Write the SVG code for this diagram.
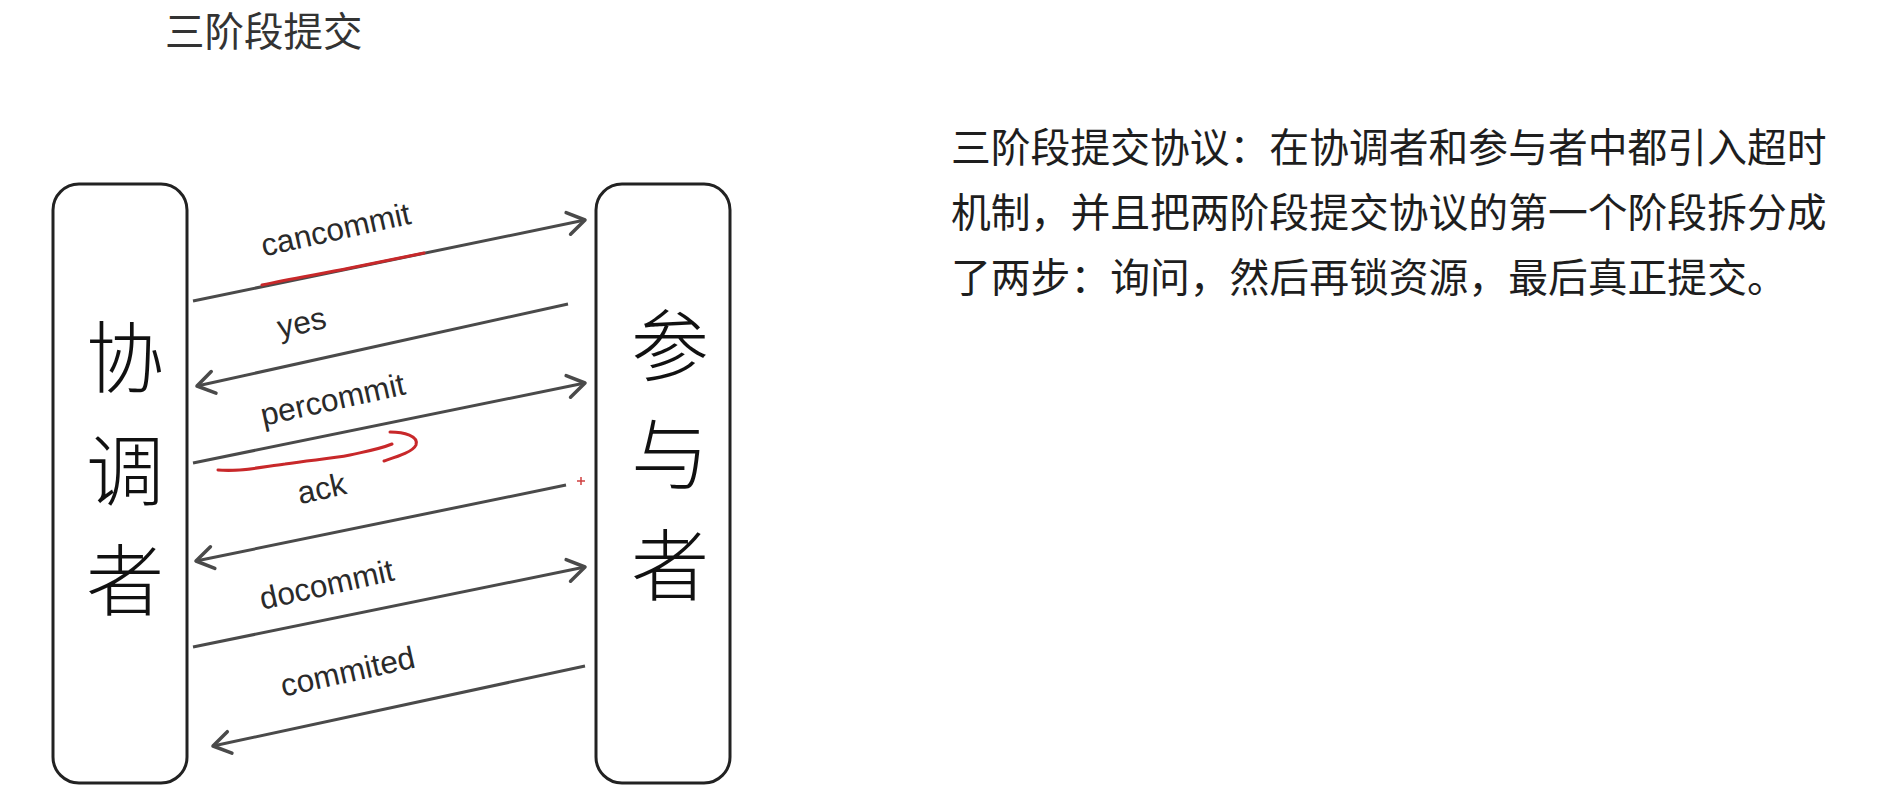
<svg xmlns="http://www.w3.org/2000/svg" width="1884" height="786" viewBox="0 0 1884 786">
  <style>
    .cjk { font-family: "Noto Sans CJK SC", "Noto Sans", sans-serif; fill: #222; }
    .title { font-size: 39.5px; fill: #333; }
    .para { font-size: 39.8px; fill: #1e1e1e; }
    .node-label { font-size: 78px; font-weight: 300; fill: #111; text-anchor: middle; }
    .box { fill: #ffffff; stroke: #222; stroke-width: 3; }
    .msg { stroke: #4a4a4a; stroke-width: 3; fill: none; marker-end: url(#arrow); }
    .lbl { font-family: "Liberation Sans", Arial, sans-serif; font-size: 31.5px; fill: #2a2a2a; text-anchor: middle; }
    .red { stroke: #c8282a; stroke-width: 3; fill: none; stroke-linecap: round; stroke-linejoin: round; }
  </style>
  <defs>
    <marker id="arrow" markerUnits="userSpaceOnUse" viewBox="-22 -14 26 28" refX="0" refY="0" markerWidth="26" markerHeight="28" orient="auto">
      <path d="M -17 -11 L 0 0 L -17 11" fill="none" stroke="#4a4a4a" stroke-width="3.5" stroke-linecap="round" stroke-linejoin="round"/>
    </marker>
  </defs>
  <rect width="1884" height="786" fill="#ffffff"/>

  <text class="cjk title" x="165" y="46">三阶段提交</text>

  <g id="coordinator">
    <rect class="box" x="53" y="184" width="134" height="599" rx="26" ry="26"/>
    <text class="cjk node-label" x="125" y="387">协</text>
    <text class="cjk node-label" x="125" y="500">调</text>
    <text class="cjk node-label" x="125" y="610">者</text>
  </g>

  <g id="participant">
    <rect class="box" x="596" y="184" width="134" height="599" rx="26" ry="26"/>
    <text class="cjk node-label" x="670" y="375">参</text>
    <text class="cjk node-label" x="670" y="484">与</text>
    <text class="cjk node-label" x="670" y="595">者</text>
  </g>

  <g id="connectors">
    <path class="msg" d="M193,301 L585,220"/>
    <path class="msg" d="M568,304 L197,386"/>
    <path class="msg" d="M193,463 L585,383"/>
    <path class="msg" d="M566,485 L196,561"/>
    <path class="msg" d="M193,647 L585,567"/>
    <path class="msg" d="M585,666 L213,746"/>
    <text class="lbl" x="338" y="240" transform="rotate(-12.5 338 240)">cancommit</text>
    <text class="lbl" x="304" y="333" transform="rotate(-12.5 304 333)">yes</text>
    <text class="lbl" x="335" y="410" transform="rotate(-12.5 335 410)">percommit</text>
    <text class="lbl" x="324" y="499" transform="rotate(-12.5 324 499)">ack</text>
    <text class="lbl" x="329" y="595" transform="rotate(-12.5 329 595)">docommit</text>
    <text class="lbl" x="350" y="682" transform="rotate(-12.5 350 682)">commited</text>
  </g>

  <g id="annotations">
    <path class="red" d="M262,285 C290,279 320,274 350,268 C375,263 400,258 424,253"/>
    <path class="red" d="M218,470 C240,472 262,467 285,464 C310,460 330,459 350,455 C368,451 380,449 392,444"/>
    <path class="red" d="M390,432 C404,432 419,436 416,445 C413,452 396,457 384,461"/>
    <path d="M577,481 H585 M581,477 V485" stroke="#d04040" stroke-width="1.5" fill="none"/>
  </g>

  <g id="description">
    <text class="cjk para" x="951" y="162">三阶段提交协议：在协调者和参与者中都引入超时</text>
    <text class="cjk para" x="951" y="227">机制，并且把两阶段提交协议的第一个阶段拆分成</text>
    <text class="cjk para" x="951" y="292">了两步：询问，然后再锁资源，最后真正提交。</text>
  </g>
</svg>
